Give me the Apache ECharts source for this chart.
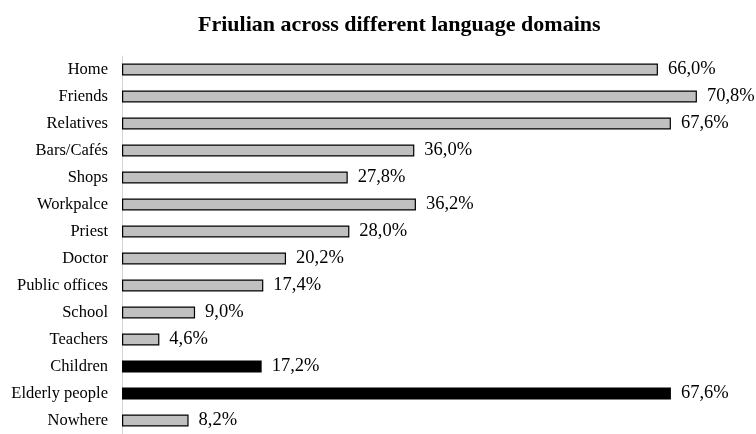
<!DOCTYPE html>
<html><head><meta charset="utf-8">
<script src="https://cdn.jsdelivr.net/npm/echarts@6/dist/echarts.min.js"></script>
<style>html,body{margin:0;padding:0;background:#fff}#c{width:756px;height:434px}</style>
</head><body><div id="c"></div>
<script>
const categories = ["Home","Friends","Relatives","Bars/Cafés","Shops","Workpalce","Priest","Doctor","Public offices","School","Teachers","Children","Elderly people","Nowhere"];
const values = [66.0,70.8,67.6,36.0,27.8,36.2,28.0,20.2,17.4,9.0,4.6,17.2,67.6,8.2];
const highlighted = ["Children","Elderly people"];
const chart = echarts.init(document.getElementById('c'));
const serif = '"Liberation Serif","Times New Roman",serif';
chart.setOption({
  animation:false,
  title:{text:'Friulian across different language domains',left:193,top:9,
    textStyle:{fontFamily:serif,fontWeight:'bold',fontSize:22,color:'#000'}},
  grid:{left:122,top:56,height:381,width:609},
  xAxis:{type:'value',min:0,max:75,show:false},
  yAxis:{type:'category',data:categories,inverse:true,
    axisLine:{show:true,lineStyle:{color:'#d4d4d4',width:1}},
    axisTick:{show:false},
    axisLabel:{fontFamily:serif,fontSize:16.5,color:'#000',margin:14}},
  series:[{type:'bar',barWidth:12,
    data:values.map((v,i)=>{
      const hi = highlighted.includes(categories[i]);
      return {value:v,itemStyle:{color:hi?'#000':'#c0c0c0',borderColor:'#000',borderWidth:hi?0:1.2}};
    }),
    label:{show:true,position:'right',distance:10,fontFamily:serif,fontSize:18.5,color:'#000',
      formatter:p=>p.value.toFixed(1).replace('.',',')+'%'}
  }]
});
</script></body></html>
